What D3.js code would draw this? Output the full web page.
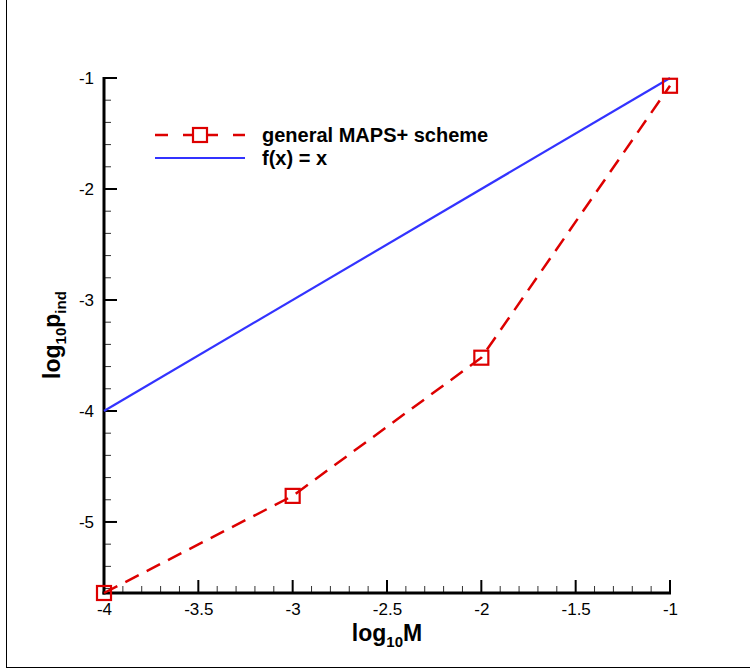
<!DOCTYPE html>
<html><head><meta charset="utf-8">
<script src="https://cdn.jsdelivr.net/npm/d3@7"></script>
<style>body{margin:0;background:#fff}svg{display:block;font-family:"Liberation Sans",Arial,sans-serif}</style>
</head><body>
<svg id="c" width="750" height="671"></svg>
<script>
const xValues = [-4, -3, -2, -1];
const schemeValues = [-5.64, -4.765, -3.52, -1.07];
const refX = [-4, -1];
const refY = [-4, -1];
const xTicks = [-4, -3.5, -3, -2.5, -2, -1.5, -1];
const yTicks = [-1, -2, -3, -4, -5];
const legendLabels = ["general MAPS+ scheme", "f(x) = x"];

const svg = d3.select("#c");
const x = d3.scaleLinear().domain([-4, -1]).range([104, 670]);
const y = d3.scaleLinear().domain([-5.64, -1]).range([593, 78]);
const fmt = d => String(d);

// frame
svg.append("line").attr("x1",6.5).attr("x2",6.5).attr("y1",0).attr("y2",667.5).attr("stroke","#000").attr("stroke-width",1);
svg.append("line").attr("x1",6).attr("x2",750).attr("y1",667.5).attr("y2",667.5).attr("stroke","#000").attr("stroke-width",1);

// minor ticks
const xMinor = d3.range(-40, -9).map(d => d/10).filter(d => Math.abs(d*2 - Math.round(d*2)) > 1e-6);
const yMinor = d3.range(-28, -4).map(d => d/5).filter(d => Math.abs(d - Math.round(d)) > 1e-6 && d >= -5.64);

const gx = svg.append("g").attr("transform","translate(0,593)");
gx.selectAll(".mn").data(xMinor).join("line").attr("x1",d=>x(d)).attr("x2",d=>x(d)).attr("y1",0).attr("y2",-7).attr("stroke","#333").attr("stroke-width",1);
gx.call(d3.axisBottom(x).tickValues(xTicks).tickSize(0).tickPadding(10).tickFormat(fmt));
gx.select(".domain").remove();
gx.selectAll(".mj").data(xTicks).join("line").attr("x1",d=>x(d)).attr("x2",d=>x(d)).attr("y1",0).attr("y2",-13).attr("stroke","#000").attr("stroke-width",2);
gx.selectAll("text").attr("font-size",17).attr("font-family","Liberation Sans, Arial, sans-serif").attr("fill","#000");

const gy = svg.append("g").attr("transform","translate(104,0)");
gy.selectAll(".mn").data(yMinor).join("line").attr("y1",d=>y(d)).attr("y2",d=>y(d)).attr("x1",0).attr("x2",7).attr("stroke","#333").attr("stroke-width",1);
gy.call(d3.axisLeft(y).tickValues(yTicks).tickSize(0).tickPadding(10).tickFormat(fmt));
gy.select(".domain").remove();
gy.selectAll(".mj").data(yTicks).join("line").attr("y1",d=>y(d)).attr("y2",d=>y(d)).attr("x1",0).attr("x2",13).attr("stroke","#000").attr("stroke-width",2);
gy.selectAll("text").attr("font-size",17).attr("font-family","Liberation Sans, Arial, sans-serif").attr("fill","#000");

// axis lines
svg.append("line").attr("x1",104).attr("x2",104).attr("y1",77).attr("y2",594.5).attr("stroke","#000").attr("stroke-width",3);
svg.append("line").attr("x1",102.5).attr("x2",671).attr("y1",593).attr("y2",593).attr("stroke","#000").attr("stroke-width",3);

// reference line
const line = d3.line().x(d=>x(d[0])).y(d=>y(d[1]));
svg.append("path").datum(refX.map((v,i)=>[v,refY[i]])).attr("d",line).attr("fill","none").attr("stroke","#3333ff").attr("stroke-width",2.2);

// scheme line
const pts = xValues.map((v,i)=>[v,schemeValues[i]]);
svg.append("path").datum(pts).attr("d",line).attr("fill","none").attr("stroke","#dd0000").attr("stroke-width",2.5).attr("stroke-dasharray","15,9");
svg.selectAll(".mk").data(pts).join("rect").attr("x",d=>x(d[0])-7).attr("y",d=>y(d[1])-7).attr("width",14).attr("height",14).attr("fill","none").attr("stroke","#dd0000").attr("stroke-width",2.2);

// legend
const lg = svg.append("g");
lg.append("line").attr("x1",155).attr("x2",168).attr("y1",135).attr("y2",135).attr("stroke","#dd0000").attr("stroke-width",2.5);
lg.append("line").attr("x1",183).attr("x2",218).attr("y1",135).attr("y2",135).attr("stroke","#dd0000").attr("stroke-width",2.5);
lg.append("line").attr("x1",233).attr("x2",245).attr("y1",135).attr("y2",135).attr("stroke","#dd0000").attr("stroke-width",2.5);
lg.append("rect").attr("x",193).attr("y",128).attr("width",14).attr("height",14).attr("fill","#fff").attr("stroke","#dd0000").attr("stroke-width",2.2);
lg.append("line").attr("x1",155).attr("x2",245).attr("y1",158).attr("y2",158).attr("stroke","#3333ff").attr("stroke-width",2.2);
lg.selectAll("text").data(legendLabels).join("text").attr("x",262).attr("y",(d,i)=>142+i*23).attr("font-size",20).attr("font-weight","bold").attr("fill","#000").text(d=>d);

// axis titles
const xt = svg.append("text").attr("x",387).attr("y",641).attr("text-anchor","middle").attr("font-size",23).attr("font-weight","bold");
xt.append("tspan").text("log");
xt.append("tspan").attr("font-size",15).attr("dy",6).text("10");
xt.append("tspan").attr("dy",-6).text("M");

const yt = svg.append("text").attr("transform","translate(60,335) rotate(-90)").attr("text-anchor","middle").attr("font-size",23).attr("font-weight","bold");
yt.append("tspan").text("log");
yt.append("tspan").attr("font-size",15).attr("dy",6).text("10");
yt.append("tspan").attr("dy",-6).text("p");
yt.append("tspan").attr("font-size",15).attr("dy",6).text("ind");
</script>
</body></html>
